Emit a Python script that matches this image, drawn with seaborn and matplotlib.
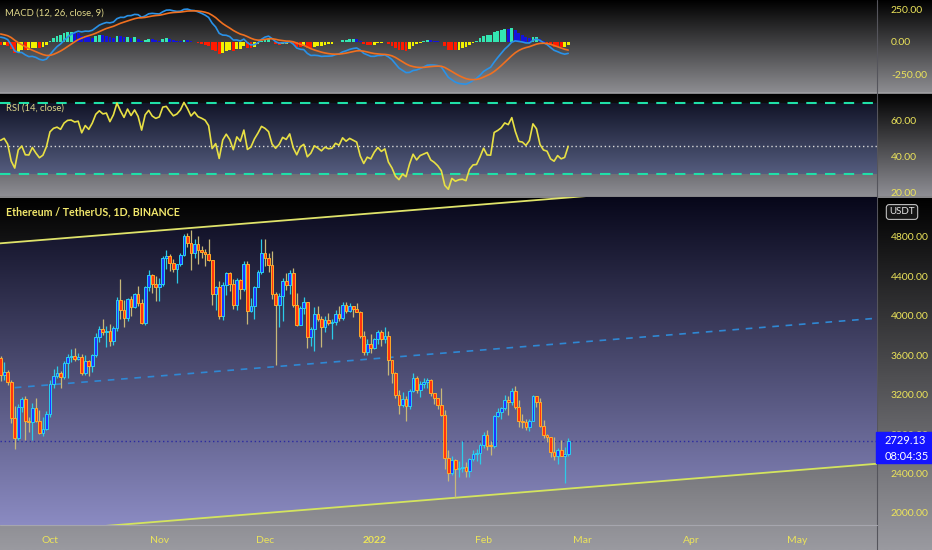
import numpy as np
import pandas as pd
import matplotlib
matplotlib.use('Agg')
import matplotlib.pyplot as plt
import matplotlib.dates as mdates
from matplotlib.colors import LinearSegmentedColormap
from matplotlib.patches import Polygon, Rectangle
from matplotlib.transforms import Bbox
import seaborn as sns

# ETH/USDT daily candles 2021-09-17 .. 2022-02-25 (last candle still open)
closes = [3398, 3432, 3329, 2958, 2758, 3077, 3155, 2930, 2924, 3063, 2928, 2807, 2850, 3000,
          3307, 3390, 3418, 3380, 3518, 3580, 3587, 3560, 3576, 3415, 3545, 3491, 3605, 3788, 3867, 3829,
          3846, 3745, 3876, 4155, 4057, 3973, 4169, 4083, 4217, 4131, 3926, 4286, 4415, 4325, 4288,
          4323, 4584, 4605, 4537, 4477, 4518, 4612, 4807, 4732, 4636, 4725, 4666, 4647, 4624, 4559,
          4217, 4291, 3995, 4311, 4431, 4325, 4105, 4365, 4269, 4525, 4042, 4097, 4293, 4444, 4631,
          4587, 4517, 4223, 4111, 4195, 4354, 4307, 4431, 4108, 3909, 4078, 4133, 3784, 3860, 4019, 3961,
          3888, 3960, 3923, 3933, 4018, 3980, 4107, 4047, 4094, 4064, 4035, 3793, 3627, 3712, 3676,
          3765, 3829, 3761, 3794, 3550, 3418, 3195, 3090, 3156, 3082, 3238, 3372, 3249, 3309, 3330, 3350,
          3212, 3164, 3095, 2989, 2560, 2405, 2538, 2442, 2460, 2466, 2423, 2547, 2598, 2603, 2688,
          2792, 2680, 2677, 2986, 3019, 3062, 3143, 3123, 3240, 3073, 2929, 2919, 2870, 2932, 3186,
          3122, 2885, 2786, 2765, 2620, 2573, 2641, 2582, 2598, 2729.13]
highs = [3586, 3528, 3445, 3348, 3084, 3107, 3175, 3186, 2970, 3110, 3160, 3045, 2968, 3033,
         3347, 3463, 3490, 3440, 3540, 3615, 3662, 3672, 3625, 3612, 3600, 3550, 3607, 3820, 3895, 3970,
         3897, 3920, 3890, 4190, 4375, 4163, 4183, 4195, 4234, 4295, 4170, 4300, 4460, 4420, 4400,
         4384, 4600, 4668, 4622, 4572, 4523, 4636, 4823, 4842, 4868, 4780, 4808, 4705, 4680, 4773,
         4565, 4300, 4347, 4340, 4440, 4447, 4366, 4385, 4370, 4555, 4553, 4180, 4300, 4462, 4780,
         4778, 4636, 4650, 4240, 4233, 4377, 4430, 4460, 4485, 4225, 4100, 4185, 4140, 3885, 4090, 4100,
         3995, 3996, 4030, 3965, 4058, 4100, 4140, 4140, 4125, 4100, 4127, 4050, 3845, 3767, 3818,
         3770, 3855, 3855, 3880, 3844, 3553, 3432, 3245, 3230, 3190, 3260, 3415, 3390, 3340, 3372, 3370,
         3360, 3216, 3170, 3270, 3040, 2640, 2580, 2550, 2530, 2725, 2513, 2560, 2640, 2645, 2705,
         2817, 2840, 2725, 2990, 3060, 3070, 3195, 3185, 3270, 3285, 3140, 3000, 2950, 2950, 3195,
         3190, 3160, 2940, 2800, 2765, 2765, 2660, 2740, 2670, 2760]
lows = [3342, 3348, 3300, 2907, 2651, 2740, 3020, 2742, 2820, 2741, 2923, 2799, 2780, 2840,
        2970, 3265, 3365, 3270, 3357, 3370, 3530, 3540, 3547, 3400, 3398, 3384, 3425, 3580, 3730, 3800,
        3680, 3690, 3700, 3845, 3966, 3880, 3941, 4000, 4075, 4100, 3913, 3902, 4253, 4226, 4150,
        4150, 4295, 4473, 4450, 4437, 4330, 4500, 4600, 4700, 4461, 4580, 4525, 4580, 4505, 4550,
        4110, 4060, 3970, 3960, 4211, 4250, 4063, 4061, 4172, 4250, 3919, 4040, 3970, 4290, 4420,
        4500, 4441, 4170, 3500, 3880, 3950, 4257, 4215, 4083, 3890, 3900, 4015, 3675, 3690, 3640, 3950,
        3680, 3830, 3900, 3766, 3906, 3950, 3960, 4030, 4040, 3990, 4035, 3770, 3605, 3600, 3620,
        3660, 3715, 3690, 3720, 3400, 3320, 3160, 3000, 3072, 2930, 3050, 3230, 3220, 3180, 3270, 3270,
        3183, 3100, 3057, 2985, 2450, 2320, 2380, 2160, 2365, 2420, 2360, 2365, 2530, 2525, 2496,
        2657, 2640, 2590, 2660, 2970, 2950, 3040, 2990, 3090, 3050, 2870, 2860, 2845, 2830, 2930,
        3070, 2870, 2760, 2715, 2570, 2540, 2500, 2580, 2300, 2580]
# off-screen closes 2021-08-08 .. 2021-09-16, only used to warm up MACD / RSI
warmup_closes = [3012, 3163, 3142, 3165, 3050, 3320, 3268, 3309, 3148, 3015, 3030, 3180, 3283, 3225,
                 3240, 3322, 3174, 3226, 3103, 3274, 3245, 3227, 3226, 3433, 3834, 3789, 3940, 3887,
                 3952, 3926, 3431, 3497, 3427, 3211, 3270, 3408, 3287, 3430, 3610, 3569]

price_ticks = [2000, 2400, 2800, 3200, 3600, 4000, 4400, 4800]
macd_ticks = [-250, 0, 250]
rsi_ticks = [20, 40, 60]
rsi_bands = [70, 30]
rsi_mid = 46
month_dates = ['2021-10-01', '2021-11-01', '2021-12-01', '2022-01-01', '2022-02-01',
               '2022-03-01', '2022-04-01', '2022-05-01']
month_labels = ['Oct', 'Nov', 'Dec', '2022', 'Feb', 'Mar', 'Apr', 'May']

# parallel channel drawn on the chart
chan_dates = ['2021-09-16', '2022-05-24']
chan_top = [4730, 5450]
chan_bot = [1780, 2500]
mid_dates = ['2021-09-21', '2022-05-24']
mid_vals = [3270, 3975]

W, H = 932, 550
YEL = '#ece45a'
sns.set_style('dark')
plt.rcParams['font.family'] = ['Liberation Sans Narrow', 'Lato', 'DejaVu Sans']

fig = plt.figure(figsize=(W / 100, H / 100), dpi=100)


def rect(x0, y0, x1, y1):
    return [x0 / W, 1 - y1 / H, (x1 - x0) / W, (y1 - y0) / H]


def grad(c0, c1):
    return LinearSegmentedColormap.from_list('g', [c0, c1])


g = np.linspace(0, 1, 256).reshape(-1, 1)

# background: black-to-grey per pane
bg = fig.add_axes([0, 0, 1, 1], zorder=-10)
for y0, y1, c1 in [(0, 93, '#8e8e92'), (93, 196, '#8e8e94'), (196, H, '#9a9aa0')]:
    bg.imshow(g, extent=(0, W, y1, y0), cmap=grad('#000000', c1), aspect='auto')
bg.set_xlim(0, W)
bg.set_ylim(H, 0)
bg.axis('off')
bg.axhline(93, color='#a0a0a4', lw=1.2)
bg.axhline(196.5, color='#a0a0a4', lw=1.2)
bg.axvline(877, color='#55555c', lw=0.8)
bg.plot([0, 877], [525, 525], color='#a6a6ae', lw=0.8)

ax_macd = fig.add_axes(rect(0, 0, 877, 92))
ax_rsi = fig.add_axes(rect(0, 94, 877, 196))
ax_main = fig.add_axes(rect(0, 197, 877, 525))

dates = pd.date_range('2021-09-17', periods=len(closes), freq='D')
x = mdates.date2num(dates)
o = np.array(warmup_closes[-1:] + closes[:-1], float)
c = np.array(closes, float)
h = np.array(highs, float)
l = np.array(lows, float)
up = c >= o
d0 = mdates.date2num(pd.Timestamp('2021-10-01'))
xlim = (d0 - 14.18, d0 + 234.6)

# ---- main pane ----
cx = mdates.date2num(pd.to_datetime(chan_dates))
poly = Polygon([(cx[0], chan_top[0]), (cx[1], chan_top[1]), (cx[1], chan_bot[1]), (cx[0], chan_bot[0])],
               closed=True, transform=ax_main.transData, fc='none', ec='none')
ax_main.add_patch(poly)
im = ax_main.imshow(g, extent=(0, 1, 0, 1), transform=ax_main.transAxes, aspect='auto',
                    cmap=grad('#07071a', '#8b8bc2'), zorder=0)
im.set_clip_path(poly)
ax_main.plot(cx, chan_top, color='#dfe36a', lw=1.3, zorder=2)
ax_main.plot(cx, chan_bot, color='#d4e45e', lw=1.3, zorder=2)
mx = mdates.date2num(pd.to_datetime(mid_dates))
ax_main.plot(mx, mid_vals, color='#2f88d4', lw=1.2, ls=(0, (4, 4)), zorder=2)
ax_main.axhline(closes[-1], color='#2a2aa0', lw=1, ls=(0, (1, 2)), zorder=2)

ax_main.vlines(x[up], l[up], h[up], color='#2ccbe8', lw=0.9, zorder=3)
ax_main.vlines(x[~up], l[~up], h[~up], color='#c8b878', lw=0.9, zorder=3)
ax_main.bar(x[up], np.maximum(c - o, 8)[up], bottom=o[up], width=0.78, color='#1f35ff',
            edgecolor='#2ad0f0', lw=0.7, zorder=4)
ax_main.bar(x[~up], np.maximum(o - c, 8)[~up], bottom=c[~up], width=0.78, color='#ff3210',
            edgecolor='#ffab28', lw=0.7, zorder=4)
ax_main.set_ylim(1878, 5202)
ax_main.set_yticks(price_ticks)
ax_main.set_yticklabels([f'{v:.2f}' for v in price_ticks])
ax_main.set_xticks(mdates.date2num(pd.to_datetime(month_dates)))
ax_main.set_xticklabels(month_labels)
ax_main.tick_params(axis='x', length=0, pad=8, labelsize=7.5, labelcolor=YEL)
ax_main.get_xticklabels()[3].set_fontweight('bold')

# ---- indicators ----
allc = pd.Series(warmup_closes + closes, dtype=float)
n = len(closes)
macd_all = allc.ewm(span=12, adjust=False).mean() - allc.ewm(span=26, adjust=False).mean()
sig_all = macd_all.ewm(span=9, adjust=False).mean()
hist_all = (macd_all - sig_all).to_numpy()
hist = hist_all[-n:]
prev = hist_all[-n - 1:-1]
cols = np.where(hist >= 0, np.where(hist >= prev, '#33e6b2', '#1414dc'),
                np.where(hist < prev, '#ff1a00', '#f2f200'))
ax_macd.bar(x, hist, width=0.8, color=cols, lw=0, zorder=2)
sns.lineplot(x=x, y=macd_all.to_numpy()[-n:], ax=ax_macd, color='#2a92e8', lw=1.2, zorder=3)
sns.lineplot(x=x, y=sig_all.to_numpy()[-n:], ax=ax_macd, color='#f07020', lw=1.2, zorder=3)
ax_macd.set_ylim(-383, 319)
ax_macd.set_yticks(macd_ticks)
ax_macd.set_yticklabels([f'{v:.2f}' for v in macd_ticks])

delta = allc.diff().fillna(0)
gain = delta.clip(lower=0).ewm(alpha=1 / 14, adjust=False).mean()
loss = (-delta.clip(upper=0)).ewm(alpha=1 / 14, adjust=False).mean()
rsi = (100 - 100 / (1 + gain / loss)).to_numpy()[-n:]
band = ax_rsi.axhspan(rsi_bands[1], rsi_bands[0], fc='none', ec='none')
im2 = ax_rsi.imshow(g, extent=(0, 1, 0, 1), transform=ax_rsi.transAxes, aspect='auto',
                    cmap=grad('#080a1c', '#6a749a'), zorder=0)
im2.set_clip_path(band)
for lev in rsi_bands:
    ax_rsi.axhline(lev, color='#1fe0a8', lw=1.5, ls=(0, (5, 4)), zorder=2)
ax_rsi.axhline(rsi_mid, color='#d8d8d8', lw=1, ls=(0, (1, 2)), zorder=2)
sns.lineplot(x=x, y=rsi, ax=ax_rsi, color='#e8e044', lw=1.2, zorder=3)
ax_rsi.set_ylim(17.9, 74.8)
ax_rsi.set_yticks(rsi_ticks)
ax_rsi.set_yticklabels([f'{v:.2f}' for v in rsi_ticks])

for ax in (ax_macd, ax_rsi, ax_main):
    ax.set_facecolor('none')
    ax.set_xlim(*xlim)
    ax.grid(False)
    ax.set_xlabel('')
    ax.set_ylabel('')
    for s in ax.spines.values():
        s.set_visible(False)
    ax.yaxis.tick_right()
    ax.tick_params(axis='y', length=0, pad=10, labelsize=7.5, labelcolor=YEL)
for ax in (ax_macd, ax_rsi):
    ax.set_xticks([])

# the price tag hides most of the 2800 label, as on the reference
for lab in ax_main.get_yticklabels():
    if lab.get_text() == '2800.00':
        lab.set_clip_box(Bbox([[0, H - 432], [W, H]]))
        lab.set_clip_on(True)

# pane titles
fig.text(5 / W, 1 - 13 / H, 'MACD (12, 26, close, 9)', color='#e0d88a', fontsize=6.8, va='center')
fig.text(6 / W, 1 - 108 / H, 'RSI (14, close)', color='#e0d88a', fontsize=6.8, va='center')
fig.text(6 / W, 1 - 212 / H, 'Ethereum / TetherUS, 1D, BINANCE', color='#f2e86c', fontsize=7.7,
         fontweight='bold', va='center')
fig.text(902 / W, 1 - 212 / H, 'USDT', color='#e6e6e6', fontsize=7, ha='center', va='center',
         bbox=dict(boxstyle='round,pad=0.3', fc='#161616', ec='#bdbdbd', lw=0.8))

# last price tag
fig.add_artist(Rectangle((876 / W, 1 - 463 / H), 56 / W, 31 / H, transform=fig.transFigure,
                         color='#1414ff', zorder=5))
fig.text(885 / W, 1 - 440 / H, f'{closes[-1]:.2f}', color='white', fontsize=8, va='center', zorder=6)
fig.text(885 / W, 1 - 456 / H, '08:04:35', color='white', fontsize=8, va='center', zorder=6)

fig.savefig('out.png', dpi=100)
